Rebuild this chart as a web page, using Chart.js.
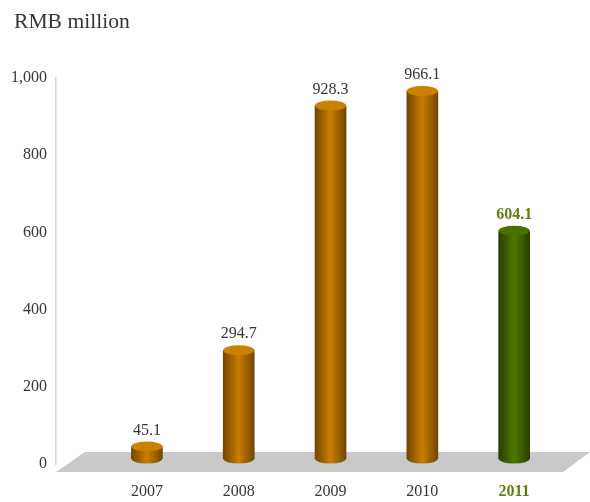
<!DOCTYPE html>
<html>
<head>
<meta charset="utf-8">
<style>
  html, body { margin:0; padding:0; background:#fff; }
  #wrap { width:590px; height:502px; }
</style>
<script src="https://cdn.jsdelivr.net/npm/chart.js@4"></script>
</head>
<body>
<div id="wrap"><canvas id="revenueChart" width="590" height="502"></canvas></div>
<script>
const years = [2007, 2008, 2009, 2010, 2011];
const revenue = [45.1, 294.7, 928.3, 966.1, 604.1];
const yTicks = [0, 200, 400, 600, 800, 1000];
const highlightYear = 2011;

const FONT = '"Liberation Serif", serif';
const TEXT = "#3a3433";
const GREEN_TEXT = "#5b7f14";
const BAR_W = 31;
const CAP_RY = 5;
const BAR_BASE = 14;   // cylinders stand on the floor, slightly above the zero line

const orange = { edge:"#724600", mid:"#c97e00", cap:"#cb8000" };
const green = { edge:"#284000", mid:"#4f7700", cap:"#4a7000" };
const paletteFor = i => years[i] === highlightYear ? green : orange;

function bodyGradient(chart, i){
  const x = chart.scales.x.getPixelForValue(years[i]);
  const p = paletteFor(i);
  // scale has no pixels yet on the first options pass
  if(!Number.isFinite(x)) return p.mid;
  const g = chart.ctx.createLinearGradient(x - BAR_W/2, 0, x + BAR_W/2, 0);
  g.addColorStop(0, p.edge);
  g.addColorStop(0.5, p.mid);
  g.addColorStop(1, p.edge);
  return g;
}

// grey floor, drawn behind the bars
const floorPlugin = {
  id:"floor",
  // the axis box is narrower than "1,000", so widen it to stop the label being clipped
  afterLayout(chart){ chart.scales.y.left = 0; },
  beforeDatasetsDraw(chart){
    const { ctx, chartArea:a } = chart;
    ctx.save();
    ctx.fillStyle = "#c9c9c9";
    ctx.beginPath();
    ctx.moveTo(a.left, a.bottom + 8);
    ctx.lineTo(a.left + 29, a.bottom - 12);
    ctx.lineTo(590, a.bottom - 12);
    ctx.lineTo(563, a.bottom + 8);
    ctx.closePath();
    ctx.fill();
    ctx.restore();
  }
};

// round ends of the cylinders and the value labels
const cylinderPlugin = {
  id:"cylinder",
  afterDatasetsDraw(chart){
    const { ctx } = chart;
    chart.getDatasetMeta(0).data.forEach((bar, i) => {
      const p = paletteFor(i);
      ctx.save();
      ctx.fillStyle = bodyGradient(chart, i);
      ctx.beginPath();
      ctx.ellipse(bar.x, bar.base, BAR_W/2, CAP_RY, 0, 0, Math.PI);
      ctx.fill();
      ctx.fillStyle = p.cap;
      ctx.beginPath();
      ctx.ellipse(bar.x, bar.y, BAR_W/2, CAP_RY, 0, 0, Math.PI*2);
      ctx.fill();

      const hi = years[i] === highlightYear;
      ctx.font = (hi ? "bold " : "") + "16px " + FONT;
      ctx.fillStyle = hi ? GREEN_TEXT : TEXT;
      ctx.textAlign = "center";
      ctx.textBaseline = "middle";
      ctx.fillText(revenue[i].toFixed(1), bar.x, bar.y - 16);
      ctx.restore();
    });
  }
};

new Chart(document.getElementById("revenueChart"), {
  type:"bar",
  data:{
    datasets:[{
      data: years.map((y, i) => ({ x:y, y:revenue[i] })),
      base: BAR_BASE,
      barThickness: BAR_W,
      borderWidth: 0,
      backgroundColor: c => bodyGradient(c.chart, c.dataIndex)
    }]
  },
  plugins:[floorPlugin, cylinderPlugin],
  options:{
    responsive:false,
    animation:false,
    layout:{ padding:{ left:14, right:29, top:9, bottom:0 } },
    plugins:{
      legend:{ display:false },
      tooltip:{ enabled:false },
      title:{
        display:true,
        text:"RMB million",
        align:"start",
        color:TEXT,
        font:{ family:FONT, size:21.6, weight:"normal", lineHeight:1.2 },
        padding:{ top:0, bottom:43 }
      }
    },
    scales:{
      x:{
        type:"linear",
        offset:false,
        min:2006.01,
        max:2011.51,
        afterBuildTicks: s => { s.ticks = years.map(v => ({ value:v })); },
        afterFit: s => { s.height = 38; },
        grid:{ display:false, drawTicks:false },
        border:{ display:false },
        ticks:{
          padding:18,
          maxRotation:0,
          autoSkip:false,
          callback: v => String(v),
          color: c => c.tick.value === highlightYear ? GREEN_TEXT : TEXT,
          font: c => ({ family:FONT, size:16, weight: c.tick && c.tick.value === highlightYear ? "bold" : "normal" })
        }
      },
      y:{
        min:0,
        max:1000,
        afterBuildTicks: s => { s.ticks = yTicks.map(v => ({ value:v })); },
        afterFit: s => { s.width = 42; },
        grid:{ display:false, drawTicks:false },
        border:{ display:true, color:"#d6d6d6", width:1.5 },
        ticks:{
          padding:9,
          color:TEXT,
          font:{ family:FONT, size:16 },
          callback: v => v.toLocaleString("en-US")
        }
      }
    }
  }
});
</script>
</body>
</html>
